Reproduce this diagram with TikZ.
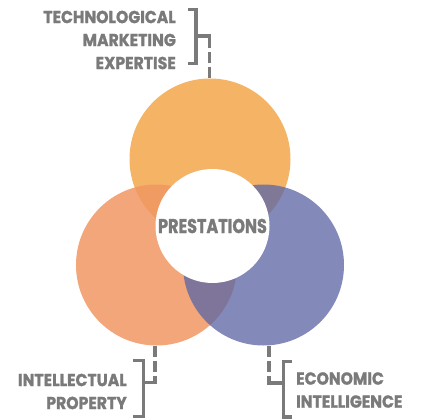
\documentclass[tikz,border=0pt]{standalone}
\usepackage{fontspec}
\newfontfamily\labelfont[FakeStretch=0.9, BoldFeatures={FakeBold=1.2}]{Poppins}
\newfontfamily\centerfont[FakeStretch=0.8, BoldFeatures={FakeBold=1.2}]{Poppins}
\definecolor{txtgray}{RGB}{122,122,122}
\definecolor{techorange}{RGB}{245,179,102}
\definecolor{ipsalmon}{RGB}{240,151,98}
\definecolor{ecoblue}{RGB}{96,104,165}

\begin{document}
\begin{tikzpicture}[x=1pt, y=-1pt,
    disc/.style={circle, inner sep=0pt, minimum size=161pt},
    tagtext/.style={text=txtgray, inner sep=0pt, font=\labelfont\bfseries\fontsize{17.4}{23}\selectfont},
    bracket/.style={draw=txtgray, line width=3.2pt},
    leader/.style={draw=txtgray, line width=3.2pt, dash pattern=on 11pt off 4pt}]

  \useasboundingbox (0,0) rectangle (429,420);

  % Kreise
  \coordinate (x1) at (210,159);
  \coordinate (x2) at (156.5,265);
  \coordinate (x3) at (263.5,265);
  \coordinate (x0) at (212.5,226);
  \node[disc, fill=techorange] (tme) at (x1) {};
  \node[disc, fill=ipsalmon, fill opacity=0.85] (ip) at (x2) {};
  \node[disc, fill=ecoblue, fill opacity=0.78] (ei) at (x3) {};
  \node[circle, fill=white, inner sep=0pt, minimum size=114pt, text=txtgray,
    font=\centerfont\bfseries\fontsize{20}{24}\selectfont] (prest) at (x0) {PRESTATIONS};

  % Beschriftungen
  \node[tagtext, align=right, anchor=east] (tmetxt) at (176,40) {TECHNOLOGICAL\\MARKETING\\EXPERTISE};
  \node[tagtext, align=right, anchor=east] (iptxt) at (127,391.5) {INTELLECTUAL\\PROPERTY};
  \node[tagtext, align=left, anchor=west] (eitxt) at (296,390) {ECONOMIC\\INTELLIGENCE};

  % Klammern
  \draw[bracket] (188,9.5) -- (196,9.5) -- (196,63.3) -- (188,63.3);
  \draw[bracket] (133,360.7) -- (143.3,360.7) -- (143.3,416.7) -- (133,416.7);
  \draw[bracket] (291.7,361.7) -- (283.3,361.7) -- (283.3,417) -- (291.7,417);

  \coordinate (tmebend) at (209.5,36);
  \coordinate (ipbend) at (155,382.7);
  \coordinate (eibend) at (269,383);
  \draw[bracket, line cap=rect] (196,36) -- (tmebend);
  \draw[bracket, line cap=rect] (143.3,382.7) -- (ipbend);
  \draw[bracket, line cap=rect] (283.3,383) -- (eibend);
  \draw[leader] (tmebend |- tme.north) -- (tmebend);
  \draw[leader] (ipbend |- ip.south) -- (ipbend);
  \draw[leader] (eibend |- ei.south) -- (eibend);

\end{tikzpicture}
\end{document}
